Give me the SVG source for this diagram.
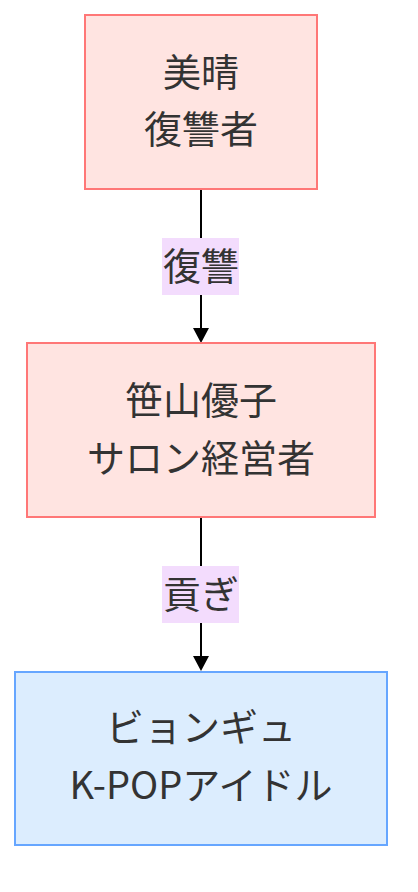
<svg xmlns="http://www.w3.org/2000/svg" width="418" height="892" viewBox="0 0 418 892">
<defs>
<style>
.red rect{fill:#ffe4e1;stroke:#ff7777;stroke-width:2}
.blue rect{fill:#dcedfe;stroke:#66a6ff;stroke-width:2}
text{font-family:"Noto Sans CJK JP","Noto Sans",sans-serif;font-size:38px;fill:#333;text-anchor:middle}
.lbl rect{fill:#f3dcfd;stroke:none}
.edge{stroke:#000;stroke-width:2;fill:none}
</style>
<marker id="arr" viewBox="0 0 10 10" refX="10" refY="5" markerWidth="8" markerHeight="7.5" markerUnits="userSpaceOnUse" orient="auto" overflow="visible">
<path d="M0,0 L10,5 L0,10 z" fill="#000"/>
</marker>
</defs>
<rect width="418" height="892" fill="#fff"/>
<g id="connectors">
<line class="edge" x1="201" y1="189" x2="201" y2="328"/>
<path d="M193,328 L209,328 L201,343 z" fill="#000"/>
<line class="edge" x1="201" y1="517" x2="201" y2="656"/>
<path d="M193,656 L209,656 L201,671 z" fill="#000"/>
<g class="lbl" id="label1"><rect x="162" y="238" width="77" height="57"/><text x="201" y="280">復讐</text></g>
<g class="lbl" id="label2"><rect x="162" y="566" width="77" height="57"/><text x="201" y="608">貢ぎ</text></g>
</g>
<g id="node1" class="red">
<rect x="85" y="15" width="232" height="174"/>
<text x="201" y="86">美晴</text>
<text x="201" y="143">復讐者</text>
</g>
<g id="node2" class="red">
<rect x="27" y="343" width="348" height="174"/>
<text x="201" y="414">笹山優子</text>
<text x="201" y="472">サロン経営者</text>
</g>
<g id="node3" class="blue">
<rect x="15" y="672" width="372" height="173"/>
<text x="201" y="741">ビョンギュ</text>
<text x="201" y="799">K-POPアイドル</text>
</g>
</svg>
